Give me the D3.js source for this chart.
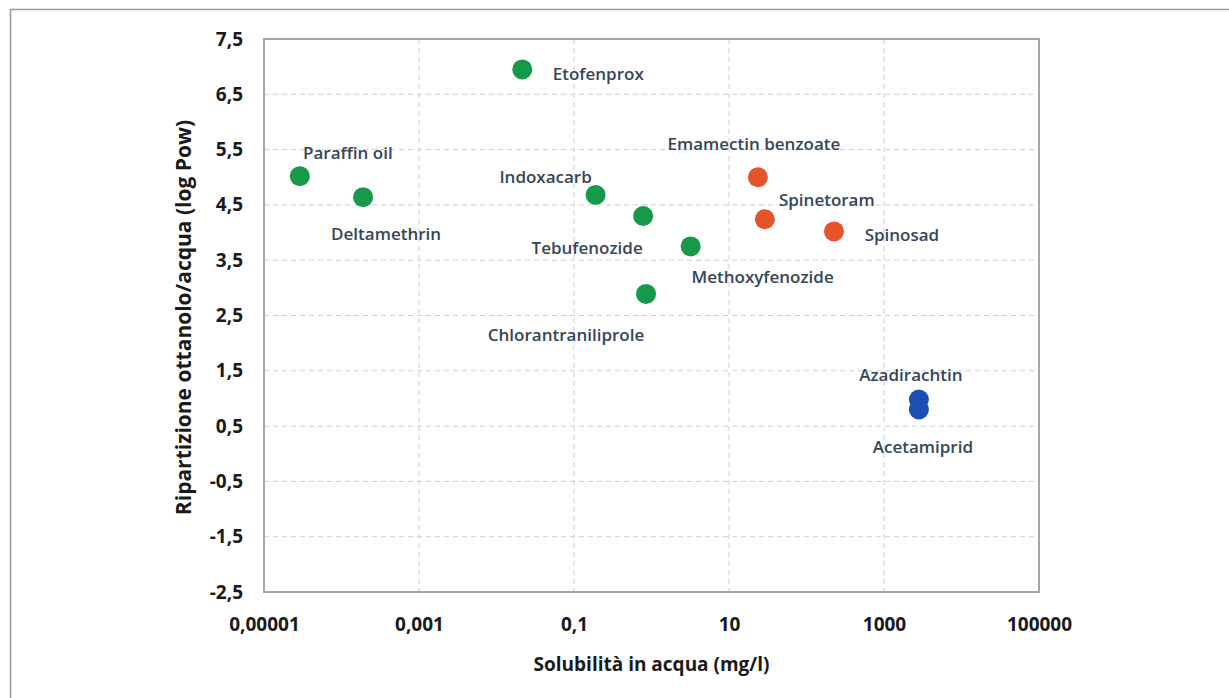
<!DOCTYPE html>
<html>
<head>
<meta charset="utf-8">
<script src="https://cdn.jsdelivr.net/npm/d3@7"></script>
<style>
  html, body { margin: 0; padding: 0; background: #fff; }
  svg { display: block; }
</style>
</head>
<body>
<svg id="chart" width="1229" height="698"></svg>
<script>
// ---- data ----
const names = ["Paraffin oil", "Deltamethrin", "Etofenprox", "Indoxacarb", "Tebufenozide",
  "Methoxyfenozide", "Chlorantraniliprole", "Emamectin benzoate", "Spinetoram", "Spinosad",
  "Azadirachtin", "Acetamiprid"];
const solubility = [0.000029, 0.00019, 0.0215, 0.19, 0.78, 3.2, 0.85, 23.6, 29, 226, 2820, 2820];
const logPow = [5.02, 4.64, 6.95, 4.68, 4.3, 3.75, 2.89, 5.0, 4.24, 4.02, 0.98, 0.8];
const groups = ["A", "A", "A", "A", "A", "A", "A", "B", "B", "B", "C", "C"];
const yTicks = [-2.5, -1.5, -0.5, 0.5, 1.5, 2.5, 3.5, 4.5, 5.5, 6.5, 7.5];
const xTicks = [0.00001, 0.001, 0.1, 10, 1000, 100000];
const xTickLabels = ["0,00001", "0,001", "0,1", "10", "1000", "100000"];
const xTitle = "Solubilità in acqua (mg/l)";
const yTitle = "Ripartizione ottanolo/acqua (log Pow)";

// ---- layout / style (separate from data) ----
const plot = { left: 264, right: 1039, top: 39, bottom: 592 };
const groupColor = { A: "#18994a", B: "#e4532b", C: "#1c4fb4" };
const labelOffset = {
  "Paraffin oil": [48, -24], "Deltamethrin": [23, 36], "Etofenprox": [76, 4],
  "Indoxacarb": [-50, -18], "Tebufenozide": [-56, 32], "Methoxyfenozide": [72, 30],
  "Chlorantraniliprole": [-80, 41], "Emamectin benzoate": [-4, -34], "Spinetoram": [62, -20],
  "Spinosad": [68, 3], "Azadirachtin": [-8, -25], "Acetamiprid": [4, 37]
};
const axisFont = "Open Sans, sans-serif";

const svg = d3.select("#chart");

// outer frame
svg.append("rect").attr("x", 10.5).attr("y", 9.5).attr("width", 1300).attr("height", 700)
  .attr("fill", "none").attr("stroke", "#9a9a9a").attr("stroke-width", 1.5);

const x = d3.scaleLog().domain([0.00001, 100000]).range([plot.left, plot.right]);
const y = d3.scaleLinear().domain([-2.5, 7.5]).range([plot.bottom, plot.top]);

// gridlines
const grid = svg.append("g");
grid.selectAll("line.h").data(yTicks.filter(t => t > -2.5 && t < 7.5)).join("line")
  .attr("x1", plot.left).attr("x2", plot.right)
  .attr("y1", d => y(d)).attr("y2", d => y(d))
  .attr("stroke", "#cfcfcf").attr("stroke-width", 1).attr("stroke-dasharray", "5,4");
grid.selectAll("line.v").data(xTicks.filter(t => t > 0.00001 && t < 100000)).join("line")
  .attr("y1", plot.top).attr("y2", plot.bottom)
  .attr("x1", d => x(d)).attr("x2", d => x(d))
  .attr("stroke", "#cfcfcf").attr("stroke-width", 1).attr("stroke-dasharray", "5,4");

// plot frame
svg.append("rect").attr("x", plot.left).attr("y", plot.top)
  .attr("width", plot.right - plot.left).attr("height", plot.bottom - plot.top)
  .attr("fill", "none").attr("stroke", "#a6a6a6").attr("stroke-width", 2);

// axes (labels only)
const yAxis = d3.axisLeft(y).tickValues(yTicks).tickSize(0).tickPadding(21)
  .tickFormat(d => d3.format(".1f")(d).replace(".", ",").replace("−", "-"));
const yg = svg.append("g").attr("transform", `translate(${plot.left},0)`).call(yAxis);
yg.select(".domain").remove();
yg.selectAll("text").attr("font-family", axisFont).attr("font-weight", "bold")
  .attr("font-size", 19).attr("fill", "#1a1a1a");

const xAxis = d3.axisBottom(x).tickValues(xTicks).tickSize(0).tickPadding(26)
  .tickFormat((d, i) => xTickLabels[i]);
const xg = svg.append("g").attr("transform", `translate(0,${plot.bottom})`).call(xAxis);
xg.select(".domain").remove();
xg.selectAll("text").attr("font-family", axisFont).attr("font-weight", "bold")
  .attr("font-size", 19).attr("fill", "#1a1a1a");

// titles
svg.append("text").attr("x", (plot.left + plot.right) / 2).attr("y", 664)
  .attr("text-anchor", "middle").attr("dominant-baseline", "central")
  .attr("font-family", axisFont).attr("font-weight", "bold")
  .attr("font-size", 19).attr("fill", "#1a1a1a").text(xTitle);
svg.append("text")
  .attr("transform", `translate(183,${(plot.top + plot.bottom) / 2 + 2}) rotate(-90)`)
  .attr("text-anchor", "middle").attr("dominant-baseline", "central")
  .attr("font-family", axisFont).attr("font-weight", "bold")
  .attr("font-size", 21).attr("fill", "#1a1a1a").text(yTitle);

// points
const pts = names.map((n, i) => ({ name: n, s: solubility[i], p: logPow[i], g: groups[i] }));
svg.append("g").selectAll("circle").data(pts).join("circle")
  .attr("cx", d => x(d.s)).attr("cy", d => y(d.p)).attr("r", 10)
  .attr("fill", d => groupColor[d.g]);

// labels
svg.append("g").selectAll("text").data(pts).join("text")
  .attr("x", d => x(d.s) + labelOffset[d.name][0])
  .attr("y", d => y(d.p) + labelOffset[d.name][1])
  .attr("text-anchor", "middle").attr("dominant-baseline", "central")
  .attr("font-family", axisFont).attr("font-size", 17).attr("font-weight", 600)
  .attr("fill", "#34465a").text(d => d.name);
</script>
</body>
</html>
